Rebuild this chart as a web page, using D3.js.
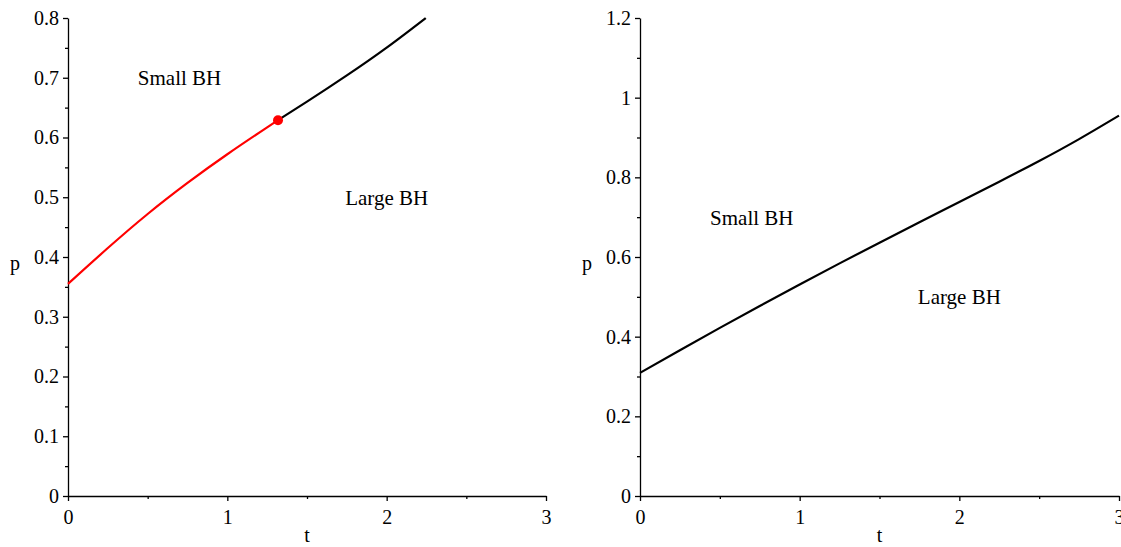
<!DOCTYPE html>
<html>
<head>
<meta charset="utf-8">
<script src="https://cdn.jsdelivr.net/npm/d3@7"></script>
<style>
  body { margin: 0; background: #fff; }
  svg { display: block; font-family: "Liberation Serif", "Times New Roman", serif; }
  .axis path, .axis line { stroke: #000; stroke-width: 1.3px; }
  .axis text { font-family: "Liberation Serif", serif; font-size: 20px; fill: #000; }
</style>
</head>
<body>
<svg id="chart" width="1121" height="547"></svg>
<script>
// données lues sur l'image
// panneau gauche : ligne de coexistence (rouge) puis au-delà du point critique (noir)
const tRed = [0, 0.25, 0.5, 0.75, 1.0, 1.25, 1.318];
const pRed = [0.355, 0.415, 0.472, 0.524, 0.572, 0.617, 0.629];
const tBlack = [1.318, 1.5, 1.75, 2.0, 2.245];
const pBlack = [0.629, 0.660, 0.704, 0.7505, 0.8];
const critical = [1.318, 0.629];

// panneau droit
const tRight = [0, 0.25, 0.5, 0.75, 1.0, 1.25, 1.5, 1.75, 2.0, 2.25, 2.5, 2.75, 3.0];
const pRight = [0.309, 0.366, 0.422, 0.477, 0.531, 0.584, 0.636, 0.687, 0.738, 0.789, 0.841, 0.896, 0.955];

const xTicks = [0, 1, 2, 3];
const xMinor = [0.5, 1.5, 2.5];
const yTicksLeft = [0, 0.1, 0.2, 0.3, 0.4, 0.5, 0.6, 0.7, 0.8];
const yMinorLeft = [0.05, 0.15, 0.25, 0.35, 0.45, 0.55, 0.65, 0.75];
const yTicksRight = [0, 0.2, 0.4, 0.6, 0.8, 1, 1.2];
const yMinorRight = [0.1, 0.3, 0.5, 0.7, 0.9, 1.1];

const labels = [
    { text: "Small BH", t: 0.7, p: 0.7 },
    { text: "Large BH", t: 2.0, p: 0.5 }
];

const svg = d3.select("#chart");

function panel(opts) {
    const x = d3.scaleLinear().domain([0, 3]).range([opts.left, opts.right]);
    const y = d3.scaleLinear().domain([0, opts.ymax]).range([496, 18]);
    const g = svg.append("g");

    // graduations mineures (sans texte)
    g.append("g").attr("class", "axis")
        .attr("transform", "translate(0,496)")
        .call(d3.axisBottom(x).tickValues(xMinor).tickSize(3).tickFormat(""))
        .call(s => s.select(".domain").remove());
    g.append("g").attr("class", "axis")
        .attr("transform", `translate(${opts.left},0)`)
        .call(d3.axisLeft(y).tickValues(opts.yMinor).tickSize(3).tickFormat(""))
        .call(s => s.select(".domain").remove());

    // axes principaux
    g.append("g").attr("class", "axis")
        .attr("transform", "translate(0,496)")
        .call(d3.axisBottom(x).tickValues(xTicks).tickSizeInner(5).tickSizeOuter(0).tickPadding(9).tickFormat(d3.format("d")));
    g.append("g").attr("class", "axis")
        .attr("transform", `translate(${opts.left},0)`)
        .call(d3.axisLeft(y).tickValues(opts.yTicks).tickSizeInner(5).tickSizeOuter(0).tickPadding(4).tickFormat(d => d === 0 ? "0" : String(+d.toFixed(1))));

    const line = d3.line().x(d => x(d[0])).y(d => y(d[1])).curve(d3.curveNatural);

    opts.curves.forEach(c => {
        g.append("path")
            .datum(d3.zip(c.t, c.p))
            .attr("d", line)
            .attr("fill", "none")
            .attr("stroke", c.color)
            .attr("stroke-width", 2.2);
    });

    if (opts.point) {
        g.append("circle")
            .attr("cx", x(opts.point[0]))
            .attr("cy", y(opts.point[1]))
            .attr("r", 5)
            .attr("fill", "#ff0000");
    }

    g.selectAll("text.lbl")
        .data(labels)
        .enter()
        .append("text")
        .attr("class", "lbl")
        .attr("x", d => x(d.t))
        .attr("y", d => y(d.p))
        .attr("dy", "0.35em")
        .attr("text-anchor", "middle")
        .style("font-size", "21px")
        .text(d => d.text);

    // titres des axes
    g.append("text")
        .attr("x", (opts.left + opts.right) / 2)
        .attr("y", 542)
        .attr("text-anchor", "middle")
        .style("font-size", "20px")
        .text("t");
    g.append("text")
        .attr("x", opts.left - 53)
        .attr("y", 263)
        .attr("dy", "0.35em")
        .attr("text-anchor", "middle")
        .style("font-size", "20px")
        .text("p");
}

panel({
    left: 68, right: 546, ymax: 0.8,
    yTicks: yTicksLeft, yMinor: yMinorLeft,
    curves: [
        { t: tRed, p: pRed, color: "#ff0000" },
        { t: tBlack, p: pBlack, color: "#000" }
    ],
    point: critical
});

panel({
    left: 640, right: 1119, ymax: 1.2,
    yTicks: yTicksRight, yMinor: yMinorRight,
    curves: [
        { t: tRight, p: pRight, color: "#000" }
    ]
});
</script>
</body>
</html>
